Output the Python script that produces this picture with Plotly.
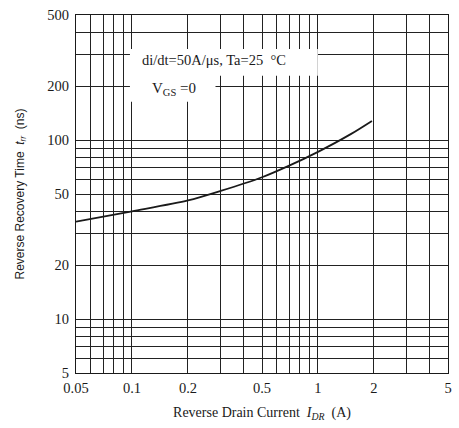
import plotly.graph_objects as go

# Reverse recovery time vs reverse drain current
current_a = [0.05, 0.1, 0.2, 0.3, 0.5, 0.7, 1.0, 1.5, 1.95]
trr_ns = [35, 40, 46, 52, 62, 72, 86, 108, 128]

x_grid = [0.05, 0.06, 0.07, 0.08, 0.09, 0.1, 0.2, 0.3, 0.4, 0.5, 0.6, 0.7,
          0.8, 0.9, 1, 2, 3, 4, 5]
x_labels = ["0.05", "", "", "", "", "0.1", "0.2", "", "", "0.5", "", "", "",
            "", "1", "2", "", "", "5"]
y_grid = [5, 6, 7, 8, 9, 10, 20, 30, 40, 50, 60, 70, 80, 90, 100, 200, 300,
          400, 500]
y_labels = ["5", "", "", "", "", "10", "20", "", "", "50", "", "", "", "",
            "100", "200", "", "", "500"]

serif = "Liberation Serif, Times New Roman, serif"
sans = "Liberation Sans, Arial, sans-serif"
ink = "#1a1a1a"

fig = go.Figure()
fig.add_trace(go.Scatter(
    x=current_a, y=trr_ns, mode="lines",
    line=dict(color=ink, width=1.8, shape="spline", smoothing=0.8),
    showlegend=False, hoverinfo="skip",
))

axis_common = dict(
    type="log", showgrid=True, gridcolor="#222222", gridwidth=1.1,
    showline=True, linecolor=ink, linewidth=1.3, mirror=True,
    ticks="", zeroline=False, tickmode="array",
    tickfont=dict(family=serif, size=14.5, color=ink),
)

fig.update_xaxes(
    **axis_common, range=[-1.30103, 0.69897],
    tickvals=x_grid, ticktext=x_labels, ticklabelstandoff=1,
    title=dict(text="Reverse Drain Current  <i>I</i><sub><i>DR</i></sub>  (A)",
               font=dict(family=serif, size=14, color=ink), standoff=12),
)
fig.update_yaxes(
    **axis_common, range=[0.69897, 2.69897],
    tickvals=y_grid, ticktext=y_labels, ticklabelstandoff=3,
    title=dict(text="Reverse Recovery Time  <i>t</i><sub><i>rr</i></sub>  (ns)",
               font=dict(family=sans, size=12, color=ink), standoff=20),
)

# white panels behind the condition notes
fig.add_shape(type="rect", xref="paper", yref="paper",
              x0=0.145, x1=0.65, y0=0.83, y1=0.905,
              fillcolor="white", line_width=0, layer="above")
fig.add_shape(type="rect", xref="paper", yref="paper",
              x0=0.145, x1=0.375, y0=0.758, y1=0.835,
              fillcolor="white", line_width=0, layer="above")

fig.add_annotation(xref="paper", yref="paper", x=0.172, y=0.874,
                   xanchor="left", yanchor="middle", showarrow=False,
                   text="di/dt=50A/μs, Ta=25  °C",
                   font=dict(family=serif, size=14.5, color=ink))
fig.add_annotation(xref="paper", yref="paper", x=0.2, y=0.793,
                   xanchor="left", yanchor="middle", showarrow=False,
                   text="V<sub>GS</sub> =0",
                   font=dict(family=serif, size=15, color=ink))

fig.update_layout(
    width=459, height=428,
    margin=dict(l=76, r=7, t=13, b=55),
    paper_bgcolor="white", plot_bgcolor="white",
)

fig.write_html("out.html")
